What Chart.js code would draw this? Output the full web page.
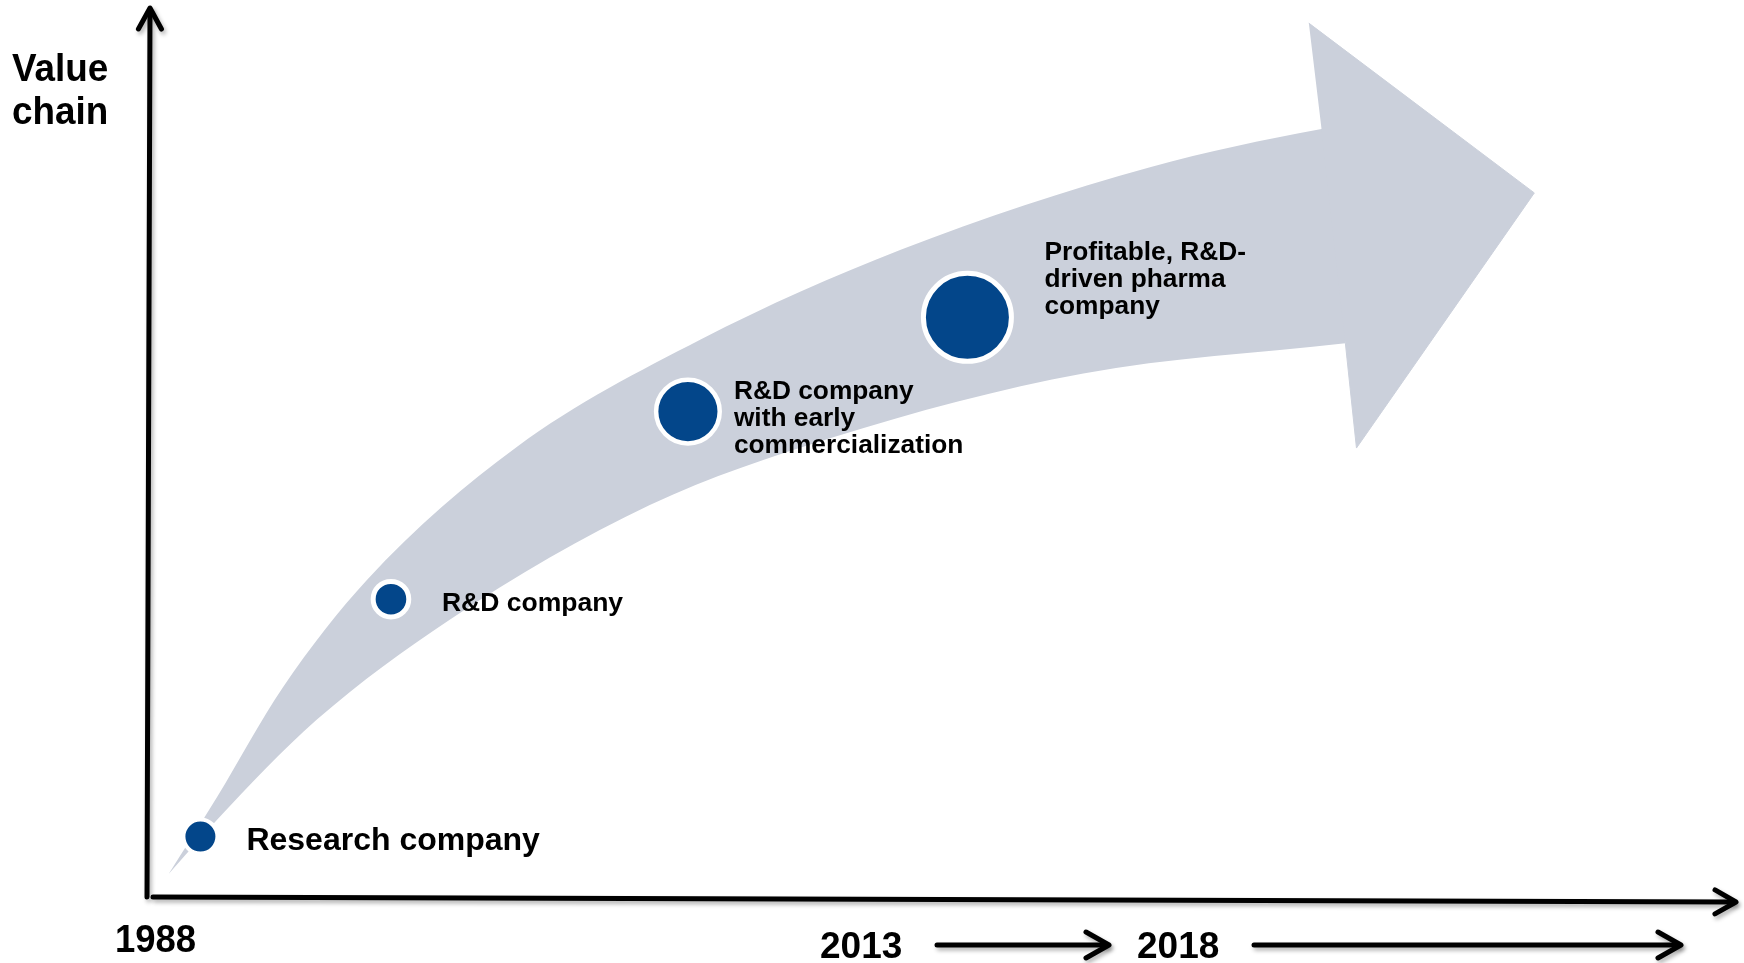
<!DOCTYPE html>
<html>
<head>
<meta charset="utf-8">
<script src="https://cdn.jsdelivr.net/npm/chart.js@4.4.1/dist/chart.umd.min.js"></script>
<style>
  html, body { margin: 0; padding: 0; background: #fff; }
  #wrap { width: 1744px; height: 963px; position: relative; }
</style>
</head>
<body>
<div id="wrap"><canvas id="myChart"></canvas></div>
<script>
// stages along the growth arrow (x = time, y = value chain, both 0-100)
const stageLabels = [
  ['Research company'],
  ['R&D company'],
  ['R&D company', 'with early', 'commercialization'],
  ['Profitable, R&D-', 'driven pharma', 'company']
];
const stageX = [3.3, 15.3, 34.0, 51.6];
const stageY = [6.8, 33.5, 54.6, 65.2];

// outline of the big grey arrow (outer edge runs on under the head)
const outerEdgeX = [1.3, 4.35, 8.5, 13.8, 23.2, 34.8, 47.4, 63.1, 73.9, 75.4];
const outerEdgeY = [2.6, 11.25, 23.6, 35.7, 50.6, 62.7, 72.8, 82.1, 86.4, 86.8];
const innerEdgeX = [1.3, 4.35, 10.6, 19.0, 31.6, 43.1, 58.9, 75.4];
const innerEdgeY = [2.6, 8.7, 19.9, 31.2, 44.1, 51.7, 58.9, 62.3];
const headX = [73.1, 87.3, 76.1, 75.4, 73.9];
const headY = [98.3, 79.2, 50.5, 62.3, 86.4];

const axisTitle = ['Value', 'chain'];
const yearLabels = ['1988', '2013', '2018'];

const BLUE = '#03468a';
const GREY = '#cbd0db';
const FONT = '"Liberation Sans", Arial, sans-serif';

function pts(xs, ys) {
  return xs.map((x, i) => ({x: x, y: ys[i]}));
}

function chevron(ctx, tx, ty, ang, back, half) {
  const ux = Math.cos(ang), uy = Math.sin(ang);
  ctx.beginPath();
  ctx.moveTo(tx - ux * back - uy * half, ty - uy * back + ux * half);
  ctx.lineTo(tx, ty);
  ctx.lineTo(tx - ux * back + uy * half, ty - uy * back - ux * half);
  ctx.stroke();
}

function arrow(ctx, x1, y1, x2, y2, back, half) {
  const ang = Math.atan2(y2 - y1, x2 - x1);
  ctx.beginPath();
  ctx.moveTo(x1, y1);
  ctx.lineTo(x2 - Math.cos(ang) * 2, y2 - Math.sin(ang) * 2);
  ctx.stroke();
  chevron(ctx, x2, y2, ang, back, half);
}

function text(ctx, str, x, y, size, sx) {
  ctx.save();
  ctx.font = 'bold ' + size + 'px ' + FONT;
  ctx.translate(x, y);
  ctx.scale(sx || 1, 1);
  ctx.fillText(str, 0, 0);
  ctx.restore();
}

// label placement next to each stage dot: dx, first baseline dy, font size
const labelLayout = [
  {dx: 46, dy: 13, size: 32},
  {dx: 51, dy: 12, size: 26.5},
  {dx: 46, dy: -13, size: 26.3},
  {dx: 77, dy: -57, size: 26.3}
];

const decor = {
  id: 'decor',
  afterDraw(chart) {
    const ctx = chart.ctx;
    const a = chart.chartArea;
    const xs = chart.scales.x, ys = chart.scales.y;

    ctx.save();
    ctx.strokeStyle = '#000';
    ctx.lineWidth = 5;
    ctx.lineCap = 'round';
    ctx.lineJoin = 'round';
    ctx.shadowColor = 'rgba(0,0,0,0.3)';
    ctx.shadowBlur = 4;
    ctx.shadowOffsetX = 2;
    ctx.shadowOffsetY = 3;
    // axes
    arrow(ctx, a.left - 1, a.bottom, a.left + 2, a.top, 21, 11.5);
    arrow(ctx, a.left + 5, a.bottom, a.right, a.bottom + 5, 21, 12);
    // time arrows
    arrow(ctx, 937, 945, 1109, 945, 23, 13);
    arrow(ctx, 1254, 945, 1681, 945, 23, 13);
    ctx.restore();

    ctx.save();
    ctx.fillStyle = '#000';
    ctx.textAlign = 'left';
    ctx.textBaseline = 'alphabetic';
    text(ctx, axisTitle[0], 12, 81, 38, 0.97);
    text(ctx, axisTitle[1], 12, 124, 38, 0.97);
    text(ctx, yearLabels[0], 115, 952, 38, 0.96);
    text(ctx, yearLabels[1], 820, 958, 37);
    text(ctx, yearLabels[2], 1137, 958, 37);

    stageLabels.forEach((lines, i) => {
      const L = labelLayout[i];
      const px = xs.getPixelForValue(stageX[i]);
      const py = ys.getPixelForValue(stageY[i]);
      lines.forEach((ln, j) => {
        text(ctx, ln, px + L.dx, py + L.dy + j * 27, L.size);
      });
    });
    ctx.restore();
  }
};

new Chart(document.getElementById('myChart'), {
  type: 'line',
  data: {
    datasets: [
      {
        label: 'Stages',
        data: pts(stageX, stageY),
        showLine: false,
        pointRadius: [17, 17.8, 31.8, 44],
        pointHoverRadius: [17, 17.8, 31.8, 44],
        pointBackgroundColor: BLUE,
        pointBorderColor: '#fff',
        pointBorderWidth: [4, 5, 4.5, 5],
        order: 0
      },
      {
        label: 'Arrow head',
        data: pts(headX, headY),
        borderWidth: 1,
        borderColor: GREY,
        pointRadius: 0,
        fill: 'shape',
        backgroundColor: GREY,
        tension: 0,
        order: 1
      },
      {
        label: 'Outer edge',
        data: pts(outerEdgeX, outerEdgeY),
        borderWidth: 0,
        borderColor: 'rgba(0,0,0,0)',
        pointRadius: 0,
        fill: false,
        cubicInterpolationMode: 'monotone',
        order: 2
      },
      {
        label: 'Inner edge',
        data: pts(innerEdgeX, innerEdgeY),
        borderWidth: 0,
        borderColor: 'rgba(0,0,0,0)',
        pointRadius: 0,
        fill: '-1',
        backgroundColor: GREY,
        cubicInterpolationMode: 'monotone',
        order: 2
      }
    ]
  },
  options: {
    responsive: true,
    maintainAspectRatio: false,
    animation: false,
    layout: {
      autoPadding: false,
      padding: { left: 148, right: 8, top: 8, bottom: 66 }
    },
    scales: {
      x: { type: 'linear', min: 0, max: 100, display: false },
      y: { type: 'linear', min: 0, max: 100, display: false }
    },
    plugins: {
      legend: { display: false },
      tooltip: { enabled: false },
      filler: { propagate: false }
    },
    events: []
  },
  plugins: [decor]
});
</script>
</body>
</html>
